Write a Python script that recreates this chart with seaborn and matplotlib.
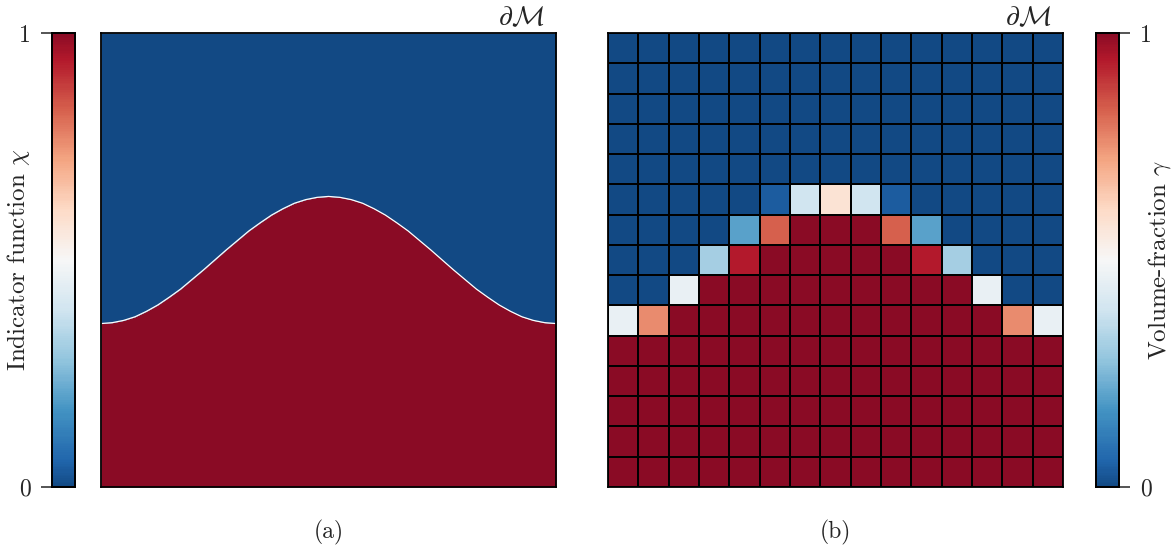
import numpy as np
import pandas as pd
import matplotlib
matplotlib.use("Agg")
import matplotlib.pyplot as plt
from matplotlib.colors import ListedColormap, Normalize
from matplotlib.cm import ScalarMappable
import seaborn as sns

# Interface of the indicator function (normalised domain coordinates)
interface_x = [0.000, 0.025, 0.050, 0.075, 0.100, 0.125, 0.150, 0.175, 0.200, 0.225,
               0.250, 0.275, 0.300, 0.325, 0.350, 0.375, 0.400, 0.425, 0.450, 0.475,
               0.500, 0.525, 0.550, 0.575, 0.600, 0.625, 0.650, 0.675, 0.700, 0.725,
               0.750, 0.775, 0.800, 0.825, 0.850, 0.875, 0.900, 0.925, 0.950, 0.975,
               1.000]
interface_y = [0.360, 0.362, 0.367, 0.375, 0.387, 0.401, 0.418, 0.436, 0.457, 0.478,
               0.500, 0.522, 0.543, 0.564, 0.582, 0.599, 0.613, 0.625, 0.633, 0.638,
               0.640, 0.638, 0.633, 0.625, 0.613, 0.599, 0.582, 0.564, 0.543, 0.522,
               0.500, 0.478, 0.457, 0.436, 0.418, 0.401, 0.387, 0.375, 0.367, 0.362,
               0.360]

# Cell volume fractions on the 15 x 15 mesh, listed top row first
gamma_rows = [
    [0, 0, 0, 0, 0, 0, 0, 0, 0, 0, 0, 0, 0, 0, 0],
    [0, 0, 0, 0, 0, 0, 0, 0, 0, 0, 0, 0, 0, 0, 0],
    [0, 0, 0, 0, 0, 0, 0, 0, 0, 0, 0, 0, 0, 0, 0],
    [0, 0, 0, 0, 0, 0, 0, 0, 0, 0, 0, 0, 0, 0, 0],
    [0, 0, 0, 0, 0, 0, 0, 0, 0, 0, 0, 0, 0, 0, 0],
    [0, 0, 0, 0, 0, 0.04, 0.39, 0.58, 0.39, 0.04, 0, 0, 0, 0, 0],
    [0, 0, 0, 0, 0.20, 0.83, 1, 1, 1, 0.83, 0.20, 0, 0, 0, 0],
    [0, 0, 0, 0.31, 0.94, 1, 1, 1, 1, 1, 0.94, 0.31, 0, 0, 0],
    [0, 0, 0.46, 1, 1, 1, 1, 1, 1, 1, 1, 1, 0.46, 0, 0],
    [0.46, 0.76, 1, 1, 1, 1, 1, 1, 1, 1, 1, 1, 1, 0.76, 0.46],
    [1, 1, 1, 1, 1, 1, 1, 1, 1, 1, 1, 1, 1, 1, 1],
    [1, 1, 1, 1, 1, 1, 1, 1, 1, 1, 1, 1, 1, 1, 1],
    [1, 1, 1, 1, 1, 1, 1, 1, 1, 1, 1, 1, 1, 1, 1],
    [1, 1, 1, 1, 1, 1, 1, 1, 1, 1, 1, 1, 1, 1, 1],
    [1, 1, 1, 1, 1, 1, 1, 1, 1, 1, 1, 1, 1, 1, 1],
]

cbar_ticks = [0, 1]
cbar_ticklabels = ["0", "1"]
label_chi = r"Indicator function $\chi$"
label_gamma = r"Volume-fraction $\gamma$"
boundary_label = r"$\partial\mathcal{M}$"
captions = ["(a)", "(b)"]

sns.set_style("white")
plt.rcParams.update({
    "font.family": "serif",
    "font.serif": ["cmr10", "DejaVu Serif"],
    "mathtext.fontset": "cm",
    "axes.formatter.use_mathtext": True,
    "font.size": 18,
})

cmap = ListedColormap(plt.get_cmap("RdBu_r")(np.linspace(0.05, 0.95, 256)))
norm = Normalize(0, 1)

W, H = 1172, 547
fig = plt.figure(figsize=(W / 100, H / 100), dpi=100)

def rect(x0, x1, y0=33, y1=487):
    return [x0 / W, 1 - y1 / H, (x1 - x0) / W, (y1 - y0) / H]

cax_l = fig.add_axes(rect(52, 75))
ax_a = fig.add_axes(rect(101, 556))
ax_b = fig.add_axes(rect(608, 1063))
cax_r = fig.add_axes(rect(1096, 1119))

# (a) sharp indicator function
ax_a.fill_between(interface_x, 0, interface_y, color=cmap(1.0), lw=0)
ax_a.fill_between(interface_x, interface_y, 1, color=cmap(0.0), lw=0)
sns.lineplot(x=interface_x, y=interface_y, ax=ax_a, color="white", lw=0.9,
             sort=False, estimator=None)
ax_a.set_xlim(0, 1)
ax_a.set_ylim(0, 1)
ax_a.set_xticks([])
ax_a.set_yticks([])

# (b) cell-averaged volume fraction
gamma = pd.DataFrame(gamma_rows)
sns.heatmap(gamma, ax=ax_b, cmap=cmap, vmin=0, vmax=1, linewidths=1.1,
            linecolor="black", cbar_ax=cax_r, cbar_kws={"ticks": cbar_ticks},
            xticklabels=False, yticklabels=False)
ax_b.set_xlabel("")
ax_b.set_ylabel("")

for ax in (ax_a, ax_b):
    for s in ax.spines.values():
        s.set_visible(True)
        s.set_color("black")
        s.set_linewidth(1.3)
    ax.text(0.975, 1.004, boundary_label, transform=ax.transAxes,
            ha="right", va="bottom", fontsize=20)

# colour bars
cb_l = fig.colorbar(ScalarMappable(norm=norm, cmap=cmap), cax=cax_l, ticks=cbar_ticks)
cax_l.yaxis.set_ticks_position("left")
cax_l.yaxis.set_label_position("left")
cax_l.set_yticklabels(cbar_ticklabels)
cax_l.set_ylabel(label_chi, fontsize=18)
cax_l.yaxis.set_label_coords(-0.87, 0.5)

cax_r.yaxis.set_ticks_position("right")
cax_r.yaxis.set_label_position("right")
cax_r.set_yticks(cbar_ticks)
cax_r.set_yticklabels(cbar_ticklabels)
cax_r.set_ylabel(label_gamma, rotation=90, fontsize=18)
cax_r.yaxis.set_label_coords(2.17, 0.5)

for cax in (cax_l, cax_r):
    cax.tick_params(length=8, width=1.1, labelsize=17, pad=7)
    cax.set_xticks([])
    for s in cax.spines.values():
        s.set_visible(True)
        s.set_linewidth(1.3)
        s.set_color("black")

fig.text(329 / W, 1 - 532 / H, captions[0], ha="center", va="center", fontsize=17)
fig.text(835 / W, 1 - 532 / H, captions[1], ha="center", va="center", fontsize=17)

fig.savefig("out.png", dpi=100)
